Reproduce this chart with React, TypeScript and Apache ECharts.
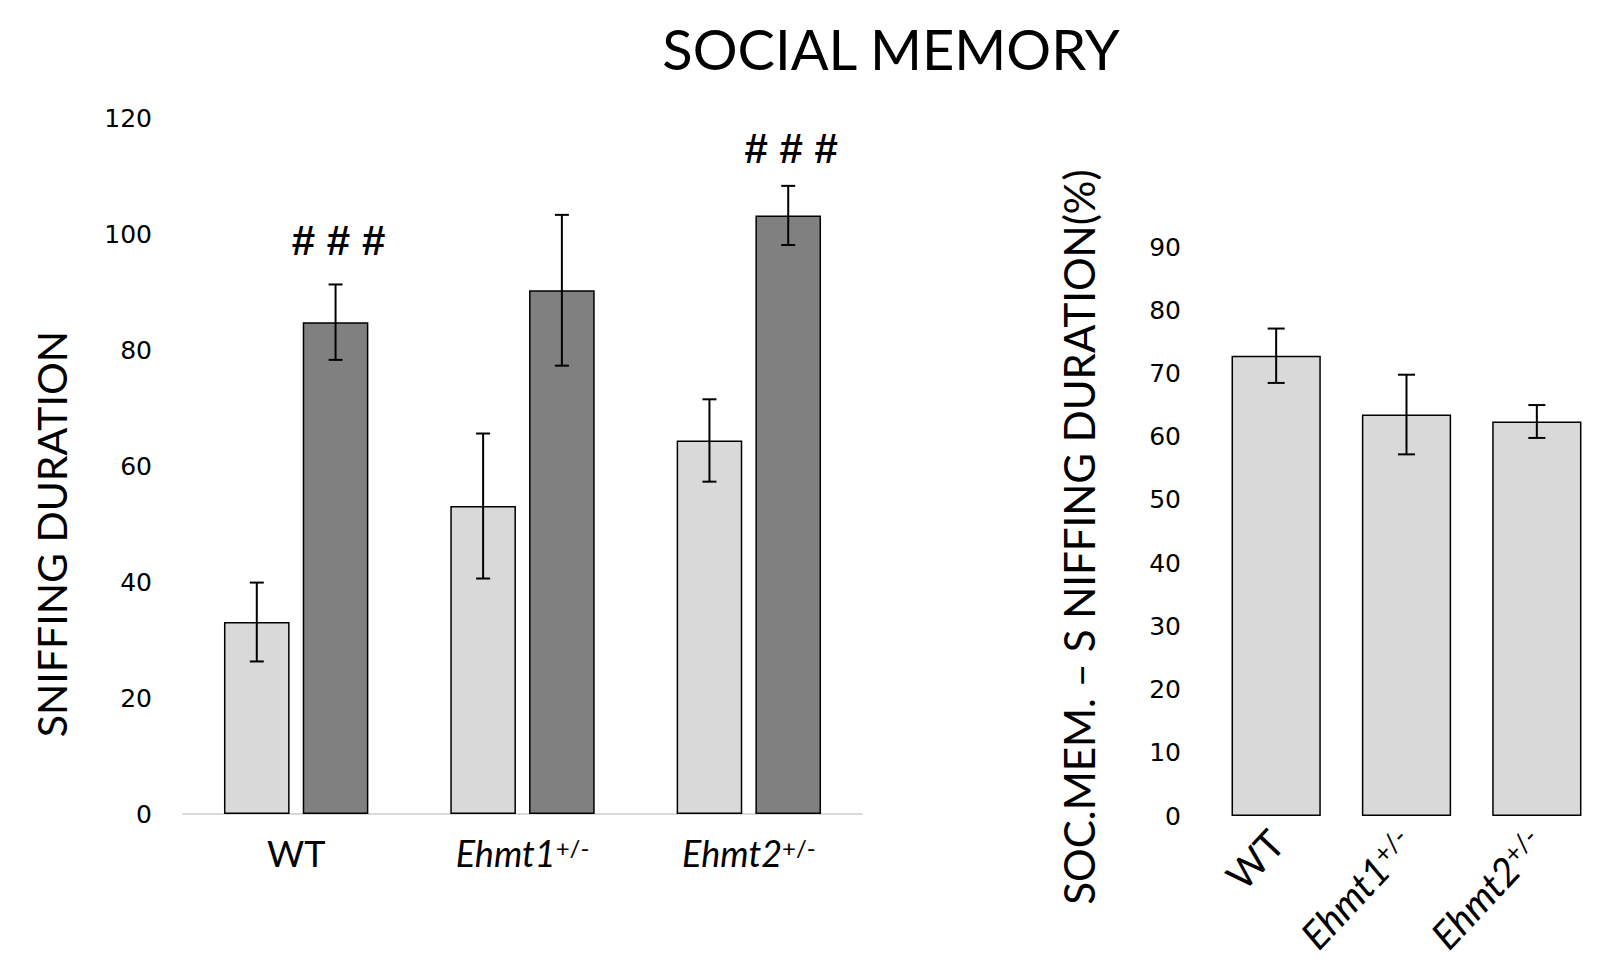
import React, { useEffect, useRef } from "react";
import * as echarts from "echarts";

// Genotype groups and their superscripts
const groups = ["WT", "Ehmt1", "Ehmt2"];
const groupSuffix = ["", "+/-", "+/-"];

// Left panel: sniffing duration, first vs second encounter (mean ± SEM)
const firstSession = [33.1, 53.1, 64.4];
const firstSessionErr = [6.8, 12.5, 7.1];
const secondSession = [84.8, 90.3, 103.2];
const secondSessionErr = [6.5, 13.0, 5.1];
// Significance markers above the second-encounter bars, and the level they sit at
const significance = ["# # #", "", "# # #"];
const significanceLevel = [98.9, 0, 114.7];

// Right panel: social memory index (%)
const memoryIndex = [72.8, 63.5, 62.4];
const memoryIndexErr = [4.3, 6.3, 2.6];

// Axis scales
const leftAxis = { min: 0, max: 120, interval: 20 };
const rightAxis = { min: 0, max: 90, interval: 10 };

const FONT = "Lato";
const TICK_FONT = "DejaVu Sans";
const LIGHT = "#d9d9d9";
const DARK = "#808080";

const BAR_W_LEFT = 0.29;
const BAR_GAP_LEFT = 0.2;
const BAR_W_RIGHT = 0.685;

function errorBars(offsetRatio: number, capHalf: number, marks?: string[], markLevels?: number[]) {
  return (params: any, api: any) => {
    const idx = api.value(0);
    const mean = api.value(1);
    const err = api.value(2);
    const band = api.size([1, 0])[0];
    const x = api.coord([idx, mean])[0] + band * offsetRatio;
    const top = api.coord([idx, mean + err])[1];
    const bottom = api.coord([idx, mean - err])[1];
    const style = { stroke: "#000", lineWidth: 2 };
    const children: any[] = [
      { type: "line", shape: { x1: x, y1: top, x2: x, y2: bottom }, style },
      { type: "line", shape: { x1: x - capHalf, y1: top, x2: x + capHalf, y2: top }, style },
      { type: "line", shape: { x1: x - capHalf, y1: bottom, x2: x + capHalf, y2: bottom }, style },
    ];
    if (marks && markLevels && marks[idx]) {
      const y = api.coord([idx, markLevels[idx]])[1];
      children.push({
        type: "text",
        x: x + 3,
        y,
        style: {
          text: marks[idx],
          fill: "#000",
          fontFamily: "Liberation Sans",
          fontWeight: "bold",
          fontSize: 42,
          align: "center",
          verticalAlign: "middle",
          textAlign: "center",
          textVerticalAlign: "middle",
        },
      });
    }
    return { type: "group", children };
  };
}

const categoryRich = (size: number) => ({
  n: { fontFamily: FONT, fontSize: size, color: "#000" },
  i: { fontFamily: FONT, fontStyle: "italic", fontSize: size, color: "#000" },
  s: { fontFamily: FONT, fontSize: Math.round(size * 0.66), color: "#000", verticalAlign: "top" },
});

const categoryFormatter = (value: string, index: number) =>
  groupSuffix[index] ? `{i|${value}}{s|${groupSuffix[index]}}` : `{n|${value}}`;

export default function App() {
  const ref = useRef<HTMLDivElement>(null);

  useEffect(() => {
    if (!ref.current) return;
    const chart = echarts.init(ref.current, null, { renderer: "svg" });
    const pairOffset = (BAR_W_LEFT * (1 + BAR_GAP_LEFT)) / 2;

    chart.setOption({
      animation: false,
      backgroundColor: "#fff",
      graphic: [
        {
          type: "text",
          x: 891,
          y: 48,
          style: {
            text: "SOCIAL MEMORY",
            fill: "#000",
            fontFamily: FONT,
            fontSize: 56,
            align: "center",
            verticalAlign: "middle",
          },
        },
        {
          type: "text",
          x: 51,
          y: 534,
          rotation: Math.PI / 2,
          style: {
            text: "SNIFFING DURATION",
            fill: "#000",
            fontFamily: FONT,
            fontSize: 41,
            align: "center",
            verticalAlign: "middle",
          },
        },
        {
          type: "text",
          x: 1079,
          y: 537,
          rotation: Math.PI / 2,
          style: {
            text: "SOC.MEM. \u2013 S NIFFING DURATION(%)",
            fill: "#000",
            fontFamily: FONT,
            fontSize: 42,
            align: "center",
            verticalAlign: "middle",
          },
        },
      ],
      grid: [
        { left: 183, right: 747, top: 118, bottom: 148 },
        { left: 1211, right: 7, top: 247, bottom: 146 },
      ],
      xAxis: [
        {
          gridIndex: 0,
          type: "category",
          data: groups,
          axisLine: { show: true, lineStyle: { color: LIGHT, width: 2 } },
          axisTick: { show: false },
          axisLabel: { margin: 21, formatter: categoryFormatter, rich: categoryRich(36) },
        },
        {
          gridIndex: 1,
          type: "category",
          data: groups,
          axisLine: { show: false },
          axisTick: { show: false },
          axisLabel: { margin: 20, rotate: 47, formatter: categoryFormatter, rich: categoryRich(39) },
        },
      ],
      yAxis: [
        {
          gridIndex: 0,
          type: "value",
          ...leftAxis,
          axisLine: { show: false },
          axisTick: { show: false },
          splitLine: { show: false },
          axisLabel: { margin: 31, fontFamily: TICK_FONT, fontSize: 25, color: "#000" },
        },
        {
          gridIndex: 1,
          type: "value",
          ...rightAxis,
          axisLine: { show: false },
          axisTick: { show: false },
          splitLine: { show: false },
          axisLabel: { margin: 30, fontFamily: TICK_FONT, fontSize: 25, color: "#000" },
        },
      ],
      series: [
        {
          type: "bar",
          xAxisIndex: 0,
          yAxisIndex: 0,
          data: firstSession,
          barWidth: `${BAR_W_LEFT * 100}%`,
          barGap: `${BAR_GAP_LEFT * 100}%`,
          itemStyle: { color: LIGHT, borderColor: "#000", borderWidth: 1.5 },
        },
        {
          type: "bar",
          xAxisIndex: 0,
          yAxisIndex: 0,
          data: secondSession,
          barWidth: `${BAR_W_LEFT * 100}%`,
          barGap: `${BAR_GAP_LEFT * 100}%`,
          itemStyle: { color: DARK, borderColor: "#000", borderWidth: 1.5 },
        },
        {
          type: "custom",
          xAxisIndex: 0,
          yAxisIndex: 0,
          z: 5,
          renderItem: errorBars(-pairOffset, 7),
          encode: { x: 0, y: 1 },
          data: groups.map((_, i) => [i, firstSession[i], firstSessionErr[i]]),
        },
        {
          type: "custom",
          xAxisIndex: 0,
          yAxisIndex: 0,
          z: 5,
          renderItem: errorBars(pairOffset, 7, significance, significanceLevel),
          encode: { x: 0, y: 1 },
          data: groups.map((_, i) => [i, secondSession[i], secondSessionErr[i]]),
        },
        {
          type: "bar",
          xAxisIndex: 1,
          yAxisIndex: 1,
          data: memoryIndex,
          barWidth: `${BAR_W_RIGHT * 100}%`,
          itemStyle: { color: LIGHT, borderColor: "#000", borderWidth: 1.5 },
        },
        {
          type: "custom",
          xAxisIndex: 1,
          yAxisIndex: 1,
          z: 5,
          renderItem: errorBars(0, 8.5),
          encode: { x: 0, y: 1 },
          data: groups.map((_, i) => [i, memoryIndex[i], memoryIndexErr[i]]),
        },
      ],
    });

    return () => chart.dispose();
  }, []);

  return (
    <div
      ref={ref}
      style={{ position: "fixed", left: 0, top: 0, width: 1609, height: 962, background: "#fff" }}
    />
  );
}
